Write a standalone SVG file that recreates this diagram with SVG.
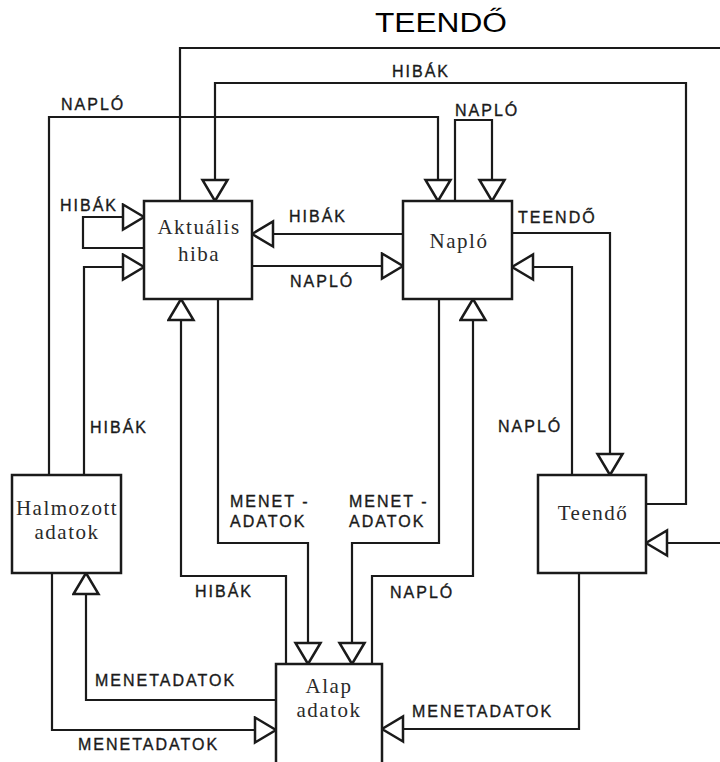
<svg xmlns="http://www.w3.org/2000/svg" width="720" height="762" viewBox="0 0 720 762">
<style>
.box{fill:#fff;stroke:#1a1a1a;stroke-width:2.5}
.nt{font-family:"Liberation Serif","Times New Roman",serif;font-size:21px;letter-spacing:1.5px;fill:#2a2a2a;text-anchor:middle}
.c{fill:none;stroke:#1a1a1a;stroke-width:2.2;stroke-linejoin:miter}
.lb{font-family:"Liberation Sans",Arial,sans-serif;font-size:16px;letter-spacing:2px;fill:#1a1a1a;stroke:#1a1a1a;stroke-width:0.35}
.title{font-family:"Liberation Sans",Arial,sans-serif;font-size:27px;fill:#000}
</style>
<defs>
<marker id="ah" markerUnits="userSpaceOnUse" markerWidth="26" markerHeight="30" viewBox="-2 -2 26 30" refX="21" refY="12.5" orient="auto">
<polygon points="0,0 21,12.5 0,25" fill="#fff" stroke="#1a1a1a" stroke-width="2.5" stroke-linejoin="miter"/>
</marker>
</defs>
<rect width="720" height="762" fill="#fff"/>
<text class="title" x="375" y="32" textLength="132" lengthAdjust="spacingAndGlyphs">TEENDŐ</text>
<g id="connectors">
<polyline class="c" points="180,201 180,48 730,48 730,543 646,543" marker-end="url(#ah)"/>
<polyline class="c" points="646,504 686,504 686,83 215,83 215,201" marker-end="url(#ah)"/>
<polyline class="c" points="49,475 49,117 438,117 438,201" marker-end="url(#ah)"/>
<polyline class="c" points="144,248 83,248 83,217 144,217" marker-end="url(#ah)"/>
<polyline class="c" points="84,475 84,267 144,267" marker-end="url(#ah)"/>
<polyline class="c" points="403,234 252,234" marker-end="url(#ah)"/>
<polyline class="c" points="252,266 403,266" marker-end="url(#ah)"/>
<polyline class="c" points="455,201 455,120 492,120 492,201" marker-end="url(#ah)"/>
<polyline class="c" points="512,233 610,233 610,475" marker-end="url(#ah)"/>
<polyline class="c" points="572,475 572,267 512,267" marker-end="url(#ah)"/>
<polyline class="c" points="218,299 218,543 308,543 308,664" marker-end="url(#ah)"/>
<polyline class="c" points="286,664 286,576 181,576 181,299" marker-end="url(#ah)"/>
<polyline class="c" points="439,299 439,543 352,543 352,664" marker-end="url(#ah)"/>
<polyline class="c" points="372,664 372,576 473,576 473,299" marker-end="url(#ah)"/>
<polyline class="c" points="276,700 86,700 86,573" marker-end="url(#ah)"/>
<polyline class="c" points="52,573 52,730 276,730" marker-end="url(#ah)"/>
<polyline class="c" points="579,573 579,729 382,729" marker-end="url(#ah)"/>
<text class="lb" x="392" y="77">HIBÁK</text>
<text class="lb" x="61" y="110">NAPLÓ</text>
<text class="lb" x="60" y="211">HIBÁK</text>
<text class="lb" x="90" y="433">HIBÁK</text>
<text class="lb" x="289" y="222">HIBÁK</text>
<text class="lb" x="290" y="287">NAPLÓ</text>
<text class="lb" x="455" y="116">NAPLÓ</text>
<text class="lb" x="518" y="223">TEENDŐ</text>
<text class="lb" x="498" y="432">NAPLÓ</text>
<text class="lb" x="230" y="507">MENET -</text>
<text class="lb" x="230" y="527">ADATOK</text>
<text class="lb" x="349" y="507">MENET -</text>
<text class="lb" x="349" y="527">ADATOK</text>
<text class="lb" x="195" y="597">HIBÁK</text>
<text class="lb" x="390" y="598">NAPLÓ</text>
<text class="lb" x="95" y="686">MENETADATOK</text>
<text class="lb" x="78" y="750">MENETADATOK</text>
<text class="lb" x="412" y="717">MENETADATOK</text>
</g>
<g id="aktualis-hiba">
<rect class="box" x="144" y="201" width="108" height="98"/>
<text class="nt" x="199" y="234">Aktuális</text>
<text class="nt" x="199" y="261">hiba</text>
</g>
<g id="naplo">
<rect class="box" x="403" y="201" width="109" height="98"/>
<text class="nt" x="459" y="248">Napló</text>
</g>
<g id="halmozott-adatok">
<rect class="box" x="12" y="475" width="109" height="98"/>
<text class="nt" x="67" y="515">Halmozott</text>
<text class="nt" x="67" y="539">adatok</text>
</g>
<g id="teendo">
<rect class="box" x="538" y="475" width="108" height="98"/>
<text class="nt" x="593" y="520">Teendő</text>
</g>
<g id="alap-adatok">
<rect class="box" x="276" y="664" width="106" height="102"/>
<text class="nt" x="329" y="693">Alap</text>
<text class="nt" x="329" y="717">adatok</text>
</g>
</svg>
